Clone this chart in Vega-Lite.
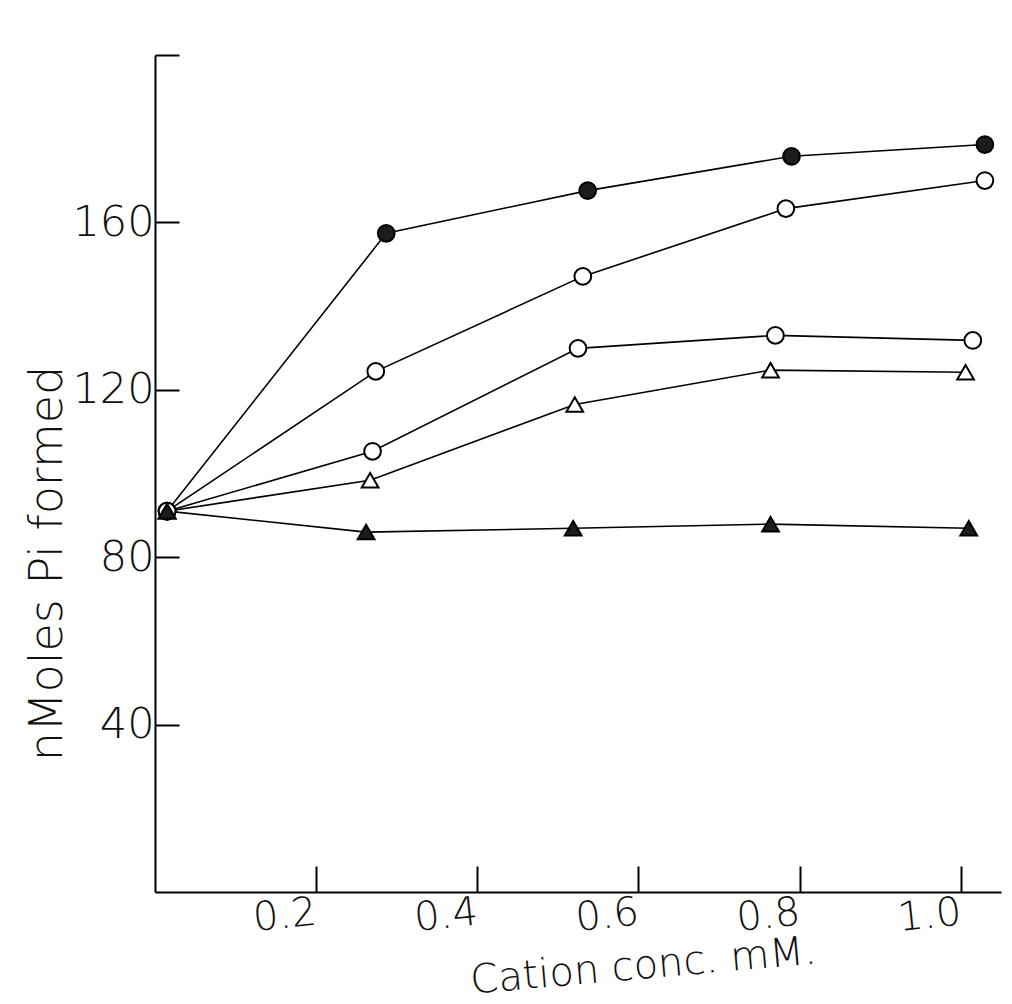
{
  "$schema": "https://vega.github.io/schema/vega-lite/v6.json",
  "width": 846,
  "height": 837,
  "autosize": {"type": "none"},
  "padding": {"left": 155, "top": 55, "right": 11, "bottom": 112},
  "background": "white",
  "config": {
    "view": {"stroke": null},
    "axis": {"grid": false, "domainColor": "black", "tickColor": "black", "domainWidth": 2, "tickWidth": 2,
      "labelFont": "DejaVu Sans", "titleFont": "DejaVu Sans", "labelColor": "#111", "titleColor": "#111",
      "labelFontWeight": 300, "titleFontWeight": 300}
  },
  "data": {"values": [
    {"series": "A", "fill": "filled", "shape": "circle", "x": 0.015, "y": 91},
    {"series": "A", "fill": "filled", "shape": "circle", "x": 0.287, "y": 157.4},
    {"series": "A", "fill": "filled", "shape": "circle", "x": 0.537, "y": 167.6},
    {"series": "A", "fill": "filled", "shape": "circle", "x": 0.79, "y": 175.8},
    {"series": "A", "fill": "filled", "shape": "circle", "x": 1.03, "y": 178.6},
    {"series": "B", "fill": "open", "shape": "circle", "x": 0.015, "y": 91},
    {"series": "B", "fill": "open", "shape": "circle", "x": 0.274, "y": 124.4},
    {"series": "B", "fill": "open", "shape": "circle", "x": 0.531, "y": 147.1},
    {"series": "B", "fill": "open", "shape": "circle", "x": 0.783, "y": 163.3},
    {"series": "B", "fill": "open", "shape": "circle", "x": 1.03, "y": 170.0},
    {"series": "C", "fill": "open", "shape": "circle", "x": 0.015, "y": 91},
    {"series": "C", "fill": "open", "shape": "circle", "x": 0.27, "y": 105.3},
    {"series": "C", "fill": "open", "shape": "circle", "x": 0.525, "y": 129.9},
    {"series": "C", "fill": "open", "shape": "circle", "x": 0.77, "y": 133.0},
    {"series": "C", "fill": "open", "shape": "circle", "x": 1.015, "y": 131.8},
    {"series": "D", "fill": "open", "shape": "triangle", "x": 0.015, "y": 91},
    {"series": "D", "fill": "open", "shape": "triangle", "x": 0.267, "y": 98.4},
    {"series": "D", "fill": "open", "shape": "triangle", "x": 0.521, "y": 116.5},
    {"series": "D", "fill": "open", "shape": "triangle", "x": 0.764, "y": 124.7},
    {"series": "D", "fill": "open", "shape": "triangle", "x": 1.006, "y": 124.2},
    {"series": "E", "fill": "filled", "shape": "triangle", "x": 0.015, "y": 91},
    {"series": "E", "fill": "filled", "shape": "triangle", "x": 0.262, "y": 86.0},
    {"series": "E", "fill": "filled", "shape": "triangle", "x": 0.519, "y": 86.9},
    {"series": "E", "fill": "filled", "shape": "triangle", "x": 0.764, "y": 87.9},
    {"series": "E", "fill": "filled", "shape": "triangle", "x": 1.01, "y": 86.9}
  ]},
  "encoding": {
    "x": {"field": "x", "type": "quantitative", "scale": {"domain": [0, 1.05], "nice": false},
      "axis": {"values": [0.2, 0.4, 0.6, 0.8, 1.0], "format": ".1f", "tickSize": -26, "labelFontSize": 40,
        "labelPadding": 46, "labelAngle": -6, "labelBaseline": "middle",
        "title": "Cation conc. mM.", "titleFontSize": 40, "titleAngle": -5, "titleX": 488, "titleY": 74,
        "titleAlign": "center", "titleBaseline": "middle"}},
    "y": {"field": "y", "type": "quantitative", "scale": {"domain": [0, 200], "nice": false},
      "axis": {"values": [40, 80, 120, 160, 200], "labelExpr": "datum.value == 200 ? '' : datum.label",
        "tickSize": -24, "labelFontSize": 43, "labelPadding": 25,
        "title": "nMoles Pi formed", "titleFontSize": 46, "titleAngle": -90, "titleX": -108, "titleY": 508,
        "titleAlign": "center", "titleBaseline": "middle"}}
  },
  "layer": [
    {"mark": {"type": "line", "color": "black", "strokeWidth": 1.6},
     "encoding": {"detail": {"field": "series"}}},
    {"mark": {"type": "point", "filled": true, "size": 280, "stroke": "black", "strokeWidth": 2, "opacity": 1},
     "encoding": {
       "fill": {"field": "fill", "type": "nominal", "scale": {"domain": ["filled", "open"], "range": ["#1c1c1c", "white"]}, "legend": null},
       "shape": {"field": "shape", "type": "nominal", "scale": {"domain": ["circle", "triangle"], "range": ["circle", "triangle-up"]}, "legend": null}
     }}
  ]
}
